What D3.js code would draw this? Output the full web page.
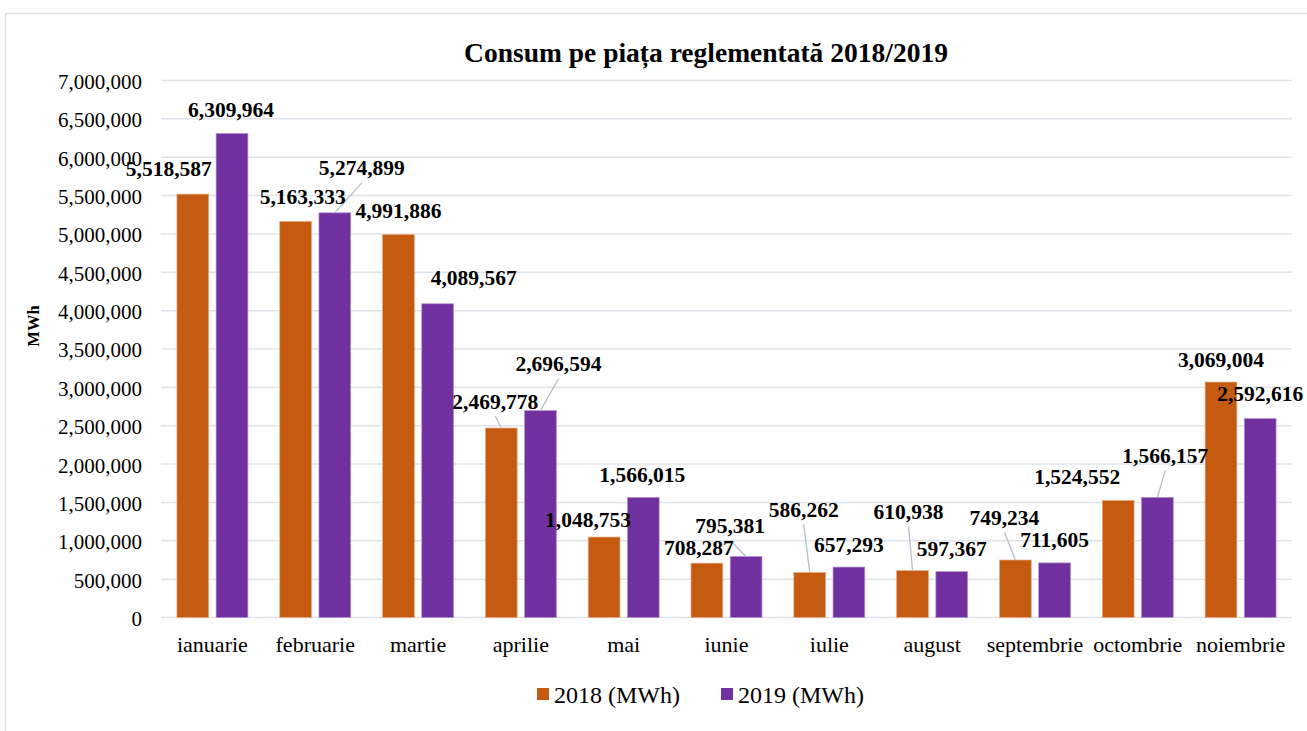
<!DOCTYPE html>
<html>
<head>
<meta charset="utf-8">
<script src="https://cdn.jsdelivr.net/npm/d3@7"></script>
<style>
  body { margin: 0; background: #fff; }
  svg { display: block; font-family: "Liberation Serif", "Times New Roman", serif; }
</style>
</head>
<body>
<svg></svg>
<script>
const width = 1307;
const height = 731;

// data
const months = ["ianuarie", "februarie", "martie", "aprilie", "mai", "iunie",
  "iulie", "august", "septembrie", "octombrie", "noiembrie"];
const seriesNames = ["2018 (MWh)", "2019 (MWh)"];
const values2018 = [5518587, 5163333, 4991886, 2469778, 1048753, 708287,
  586262, 610938, 749234, 1524552, 3069004];
const values2019 = [6309964, 5274899, 4089567, 2696594, 1566015, 795381,
  657293, 597367, 711605, 1566157, 2592616];
const yTicks = d3.range(0, 7000001, 500000);

// label nudges (label centre relative to bar top centre) and leader flags
const nudge2018 = [[-24, -26], [7, -25], [0, -24], [-6, -27], [-16, -18], [-8, -16],
  [-6, -63], [-4, -59], [-11, -43], [-41, -24], [0, -23]];
const nudge2019 = [[-1, -24], [27, -45], [36, -26], [18, -47], [-1, -23], [-16, -31],
  [0, -23], [0, -23], [0, -23], [8, -42], [0, -25]];
const leader2018 = [false, false, false, true, false, false, true, true, true, false, false];
const leader2019 = [false, true, false, true, false, true, false, false, false, true, false];

const colors = ["#C55A11", "#7030A0"];

const svg = d3.select("svg").attr("width", width).attr("height", height);

//outer frame
svg.append("rect")
  .attr("x", 5.5).attr("y", 13.5)
  .attr("width", width + 10).attr("height", height + 10)
  .attr("fill", "none").attr("stroke", "#dde1e7").attr("stroke-width", 1.5);

//scales
const y = d3.scaleLinear().domain([0, 7000000]).range([617.5, 80.5]);
const x0 = d3.scaleBand().domain(months).range([161, 1292])
  .paddingInner(0.31).paddingOuter(0.155);
const x1 = d3.scaleBand().domain(seriesNames).range([0, x0.bandwidth()]).paddingInner(0.19);

//gridlines
svg.append("g")
  .selectAll("line")
  .data(yTicks)
  .enter()
  .append("line")
  .attr("x1", 161).attr("x2", 1292)
  .attr("y1", (d) => y(d)).attr("y2", (d) => y(d))
  .attr("stroke", "#dfe3ea").attr("stroke-width", 1.5);

//y axis labels
const yAxis = d3.axisLeft(y).tickValues(yTicks).tickFormat(d3.format(",")).tickSize(0).tickPadding(19);
const yg = svg.append("g").attr("transform", "translate(161,0)").call(yAxis);
yg.select(".domain").remove();
yg.selectAll("text")
  .attr("font-family", "Liberation Serif")
  .attr("font-size", 21)
  .attr("fill", "#000")
  .attr("dy", "0.38em");

//x axis labels
const xAxis = d3.axisBottom(x0).tickSize(0).tickPadding(33);
const xg = svg.append("g").attr("transform", "translate(0,617.5)").call(xAxis);
xg.select(".domain").remove();
xg.selectAll("text")
  .attr("font-family", "Liberation Serif")
  .attr("font-size", 22)
  .attr("fill", "#000")
  .attr("dy", "0.05em");

//rows for bars
const rows = [];
months.forEach((m, i) => {
  rows.push({ month: m, s: 0, v: values2018[i], nudge: nudge2018[i], leader: leader2018[i] });
  rows.push({ month: m, s: 1, v: values2019[i], nudge: nudge2019[i], leader: leader2019[i] });
});
const barX = (d) => x0(d.month) + x1(seriesNames[d.s]);
const barCx = (d) => barX(d) + x1.bandwidth() / 2;

svg.append("g")
  .selectAll("rect")
  .data(rows)
  .enter()
  .append("rect")
  .attr("x", barX)
  .attr("y", (d) => y(d.v))
  .attr("width", x1.bandwidth())
  .attr("height", (d) => y(0) - y(d.v))
  .attr("fill", (d) => colors[d.s])
  .attr("stroke", (d) => (d.s === 0 ? "#e8a77c" : "#b48fd0"))
  .attr("stroke-width", 0.7);

//leader lines
svg.append("g")
  .selectAll("line")
  .data(rows.filter((d) => d.leader))
  .enter()
  .append("line")
  .attr("x1", (d) => barCx(d) + d.nudge[0])
  .attr("y1", (d) => y(d.v) + d.nudge[1] + 15)
  .attr("x2", (d) => barCx(d))
  .attr("y2", (d) => y(d.v))
  .attr("stroke", "#b4c0d0")
  .attr("stroke-width", 1.3);

//data labels
svg.append("g")
  .selectAll("text")
  .data(rows)
  .enter()
  .append("text")
  .attr("x", (d) => barCx(d) + d.nudge[0])
  .attr("y", (d) => y(d.v) + d.nudge[1] + 7.5)
  .attr("text-anchor", "middle")
  .attr("font-weight", "bold")
  .attr("font-size", 21.5)
  .attr("fill", "#000")
  .text((d) => d3.format(",")(d.v));

//title
svg.append("text")
  .attr("x", 706).attr("y", 62)
  .attr("text-anchor", "middle")
  .attr("font-weight", "bold")
  .attr("font-size", 27.5)
  .text("Consum pe piața reglementată 2018/2019");

//y axis title
svg.append("text")
  .attr("transform", "translate(39,326) rotate(-90)")
  .attr("text-anchor", "middle")
  .attr("font-weight", "bold")
  .attr("font-size", 16.5)
  .text("MWh");

//legend
const legendX = [537, 721];
const legend = svg.append("g")
  .selectAll("g")
  .data(seriesNames)
  .enter()
  .append("g")
  .attr("transform", (d, i) => `translate(${legendX[i]},688)`);
legend.append("rect")
  .attr("width", 12).attr("height", 12)
  .attr("fill", (d, i) => colors[i]);
legend.append("text")
  .attr("x", 17).attr("y", 14.5)
  .attr("font-size", 24)
  .text((d) => d);
</script>
</body>
</html>
